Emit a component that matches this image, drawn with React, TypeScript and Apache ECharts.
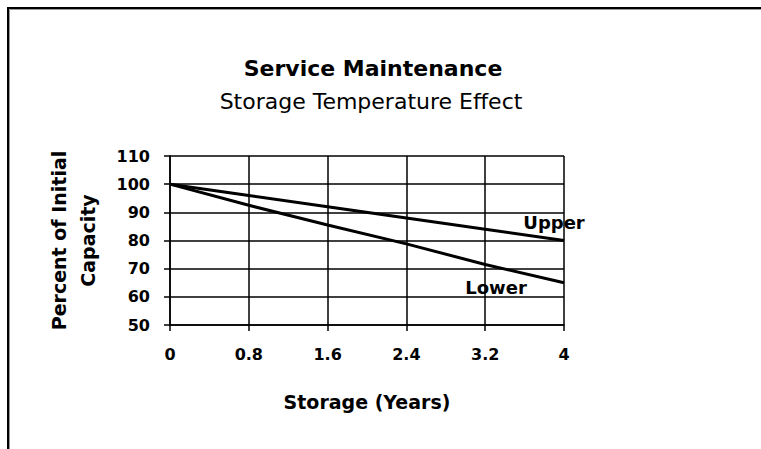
import React, { useEffect, useRef } from "react";
import * as echarts from "echarts";

const titleText = "Service Maintenance";
const subtitleText = "Storage Temperature Effect";
const xAxisName = "Storage (Years)";
const yAxisName = "Percent of Initial\nCapacity";
const years = [0, 0.8, 1.6, 2.4, 3.2, 4];
const upperValues = [100, 96, 92, 88, 84, 80];
const lowerValues = [100, 92.5, 85.5, 78.8, 71.5, 65];
const seriesNames = ["Upper", "Lower"];

const FONT = "DejaVu Sans";

export default function App() {
  const ref = useRef<HTMLDivElement>(null);
  useEffect(() => {
    const chart = echarts.init(ref.current!, null, { renderer: "svg" });
    const lineStyle = { color: "#000", width: 1.5 };
    const build = (vals: number[], labelOpt: any) =>
      vals.map((v, i) =>
        i === vals.length - 1
          ? { value: [years[i], v], label: labelOpt }
          : { value: [years[i], v] }
      );
    const labelBase = {
      show: true,
      position: "inside",
      color: "#000",
      fontFamily: FONT,
      fontWeight: "bold",
      fontSize: 18,
    };
    chart.setOption({
      animation: false,
      backgroundColor: "#fff",
      graphic: [
        {
          type: "rect",
          shape: { x: 8, y: 8, width: 800, height: 500 },
          style: { fill: "none", stroke: "#000", lineWidth: 2 },
        },
        {
          type: "polyline",
          shape: { points: [[9.5, 460], [9.5, 9.5], [770, 9.5]] },
          style: { fill: "none", stroke: "#999", lineWidth: 1 },
        },
        {
          type: "text",
          x: 373,
          y: 68,
          style: {
            text: titleText,
            fontFamily: FONT,
            fontWeight: "bold",
            fontSize: 22,
            fill: "#000",
            align: "center",
            verticalAlign: "middle",
          },
        },
        {
          type: "text",
          x: 371,
          y: 101,
          style: {
            text: subtitleText,
            fontFamily: FONT,
            fontSize: 22,
            fill: "#000",
            align: "center",
            verticalAlign: "middle",
          },
        },
      ],
      grid: { left: 170, right: 197, top: 156, bottom: 124 },
      xAxis: {
        type: "value",
        min: 0,
        max: 4,
        interval: 0.8,
        name: xAxisName,
        nameLocation: "middle",
        nameGap: 67,
        nameTextStyle: {
          color: "#000",
          fontFamily: FONT,
          fontWeight: "bold",
          fontSize: 19,
        },
        axisLine: { show: true, onZero: false, lineStyle },
        axisTick: { show: true, length: 6, lineStyle },
        axisLabel: {
          margin: 21,
          color: "#000",
          fontFamily: FONT,
          fontWeight: "bold",
          fontSize: 16,
          formatter: (v: number) => String(Math.round(v * 10) / 10),
        },
        splitLine: { show: true, lineStyle },
      },
      yAxis: {
        type: "value",
        min: 50,
        max: 110,
        interval: 10,
        name: yAxisName,
        nameLocation: "middle",
        nameRotate: 90,
        nameGap: 68,
        nameTextStyle: {
          color: "#000",
          fontFamily: FONT,
          fontWeight: "bold",
          fontSize: 19,
          lineHeight: 29,
          align: "center",
        },
        axisLine: { show: true, onZero: false, lineStyle },
        axisTick: { show: true, length: 6, lineStyle },
        axisLabel: {
          margin: 20,
          color: "#000",
          fontFamily: FONT,
          fontWeight: "bold",
          fontSize: 16,
        },
        splitLine: { show: true, lineStyle },
      },
      series: [
        {
          name: seriesNames[0],
          type: "line",
          data: build(upperValues, {
            ...labelBase,
            formatter: seriesNames[0],
            offset: [-10, -18],
          }),
          showSymbol: true,
          symbol: "circle",
          symbolSize: 0.1,
          itemStyle: { color: "#000" },
          lineStyle: { color: "#000", width: 3 },
          label: { show: false },
        },
        {
          name: seriesNames[1],
          type: "line",
          data: build(lowerValues, {
            ...labelBase,
            formatter: seriesNames[1],
            offset: [-68, 5],
          }),
          showSymbol: true,
          symbol: "circle",
          symbolSize: 0.1,
          itemStyle: { color: "#000" },
          lineStyle: { color: "#000", width: 3 },
          label: { show: false },
        },
      ],
    });
    return () => chart.dispose();
  }, []);
  return (
    <div
      style={{
        position: "fixed",
        left: 0,
        top: 0,
        width: 761,
        height: 449,
        background: "#fff",
      }}
    >
      <div ref={ref} style={{ width: 761, height: 449 }} />
    </div>
  );
}
